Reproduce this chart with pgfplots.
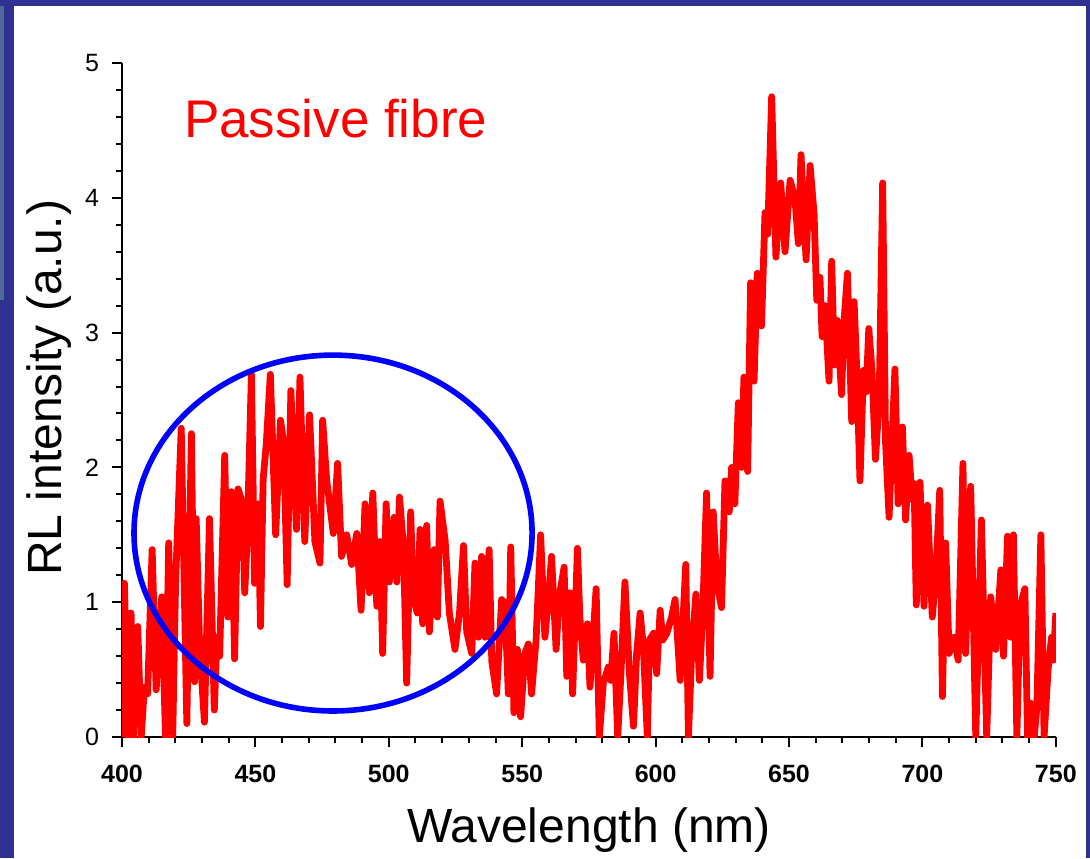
\documentclass[border=0pt]{standalone}
\usepackage{fontspec}
\setmainfont{Liberation Sans}
\usepackage{pgfplots}
\pgfplotsset{compat=1.18}
\definecolor{navy}{RGB}{46,49,146}
\definecolor{steel}{RGB}{78,107,150}
\begin{document}
\begin{tikzpicture}
\path[use as bounding box] (0,0) rectangle (545pt,429pt);
\fill[white] (0,0) rectangle (545pt,429pt);
\fill[navy] (0,0) rectangle (7pt,429pt);
\fill[navy] (0,426pt) rectangle (545pt,429pt);
\fill[navy] (543pt,0) rectangle (545pt,429pt);
\fill[steel] (0,279pt) rectangle (2pt,426pt);
\begin{axis}[
 at={(61pt,60.5pt)}, anchor=south west, scale only axis,
 width=466.9pt, height=337pt,
 xmin=400,xmax=750,ymin=0,ymax=5,
 axis x line*=bottom, axis y line*=left,
 axis line style={line width=1pt, black},
 xtick={400,450,...,750}, ytick={0,1,...,5},
 minor x tick num=4, minor y tick num=4,
 tick align=outside,
 major tick length=5pt, minor tick length=3pt,
 tick style={black, line width=1pt},
 /pgf/number format/assume math mode=true,
 xticklabel style={font=\bfseries\fontsize{12.5}{15}\selectfont, yshift=-5.5pt},
 yticklabel style={font=\fontsize{12.5}{15}\selectfont, xshift=-3pt},
 xlabel={Wavelength (nm)}, ylabel={RL intensity (a.u.)},
 label style={font=\fontsize{24}{28}\selectfont},
 xlabel style={at={(axis description cs:0.5,-0.157)}, anchor=base},
 ylabel style={at={(axis description cs:-0.0643,0.518)}, anchor=base},
]
\addplot[red, line width=3.4pt, line join=round] coordinates {
(400,0) (400.9,1.14) (401.8,0.45) (402.5,0) (403.4,0.92) (404.3,0) (405.9,0.82) (407.2,0)
(408.4,0.37) (409.6,0.32) (411.3,1.39) (412.8,0.35) (414.9,1.04) (416.3,0) (417.5,1.44) (419.0,0)
(420.1,1.16) (422.2,2.29) (424.3,0.1) (426.0,2.25) (427.2,0.41) (427.8,1.62) (429.1,0.67) (430.9,0.11)
(432.8,1.62) (434.6,0.2) (435.6,0.74) (436.6,0.6) (438.5,2.09) (439.7,0.89) (441.0,1.82) (442.2,0.58)
(443.5,1.84) (445.1,1.74) (446.0,1.07) (446.9,1.46) (448.5,2.69) (449.7,1.14) (451.0,1.73) (451.9,0.82)
(452.9,1.91) (454.1,2.18) (455.6,2.69) (457.6,1.5) (459.4,2.35) (460.6,2.18) (461.9,1.13) (463.3,2.57)
(465.4,1.54) (466.7,2.67) (468.5,1.45) (470.3,2.39) (472.3,1.45) (474.2,1.29) (475.2,2.35) (476.7,1.91)
(479.2,1.51) (480.8,2.03) (482.3,1.34) (484.2,1.5) (486.1,1.28) (488.0,1.51) (489.6,0.94) (491.1,1.73)
(492.7,1.07) (494.0,1.81) (495.5,0.97) (496.7,1.45) (497.7,0.62) (499.0,1.73) (500.2,1.15) (502.0,1.63)
(503.0,1.15) (504.0,1.78) (505.5,1.41) (506.7,0.4) (508.2,1.67) (509.2,1.03) (510.7,0.92) (511.7,1.54)
(512.7,0.84) (514.2,1.57) (515.2,0.78) (517.0,1.39) (518.2,0.89) (519.2,1.75) (521.1,1.46) (522.7,0.92)
(524.8,0.65) (526.5,0.92) (528.0,1.42) (529.2,0.78) (531.1,0.62) (532.3,1.29) (533.6,0.74) (534.8,1.34)
(536.1,0.74) (537.6,1.39) (538.6,0.56) (540.4,0.32) (542.3,1.02) (543.5,0.99) (544.8,0.32) (545.7,1.41)
(546.9,0.18) (548.2,0.65) (549.4,0.15) (551.0,0.62) (552.3,0.69) (553.5,0.32) (555.2,0.72) (556.9,1.5)
(558.5,0.74) (559.8,1.02) (561.0,1.34) (562.7,0.65) (563.9,1.04) (565.7,1.26) (566.7,0.45) (567.9,1.07)
(568.9,0.32) (570.7,1.4) (571.6,0.89) (572.9,0.57) (574.4,0.84) (575.4,0.37) (577.7,1.1) (578.9,0)
(580.4,0.4) (582.3,0.52) (583.2,0.42) (584.4,0.77) (585.8,0) (587.0,0.47) (588.5,1.15) (590.2,0.47)
(591.7,0.08) (592.9,0.62) (594.2,0.92) (595.4,0.67) (596.9,0) (597.7,0.72) (599.2,0.77) (600.4,0.47)
(601.7,0.94) (602.7,0.72) (604.2,0.77) (606.0,0.89) (607.3,1.02) (609.2,0.42) (610.2,0.84) (611.3,1.28)
(612.3,0) (613.5,0.62) (615.1,1.06) (616.4,0.42) (617.6,0.89) (619.1,1.81) (620.4,0.45) (621.6,1.67)
(622.9,1.15) (624.7,0.96) (626.0,1.9) (627.6,1.67) (628.5,2.0) (629.7,1.73) (631.0,2.48) (632.2,2.0)
(633.1,2.67) (634.5,1.97) (635.6,3.37) (636.9,2.64) (638.1,3.44) (639.7,3.05) (641.0,3.89) (642.0,3.73)
(643.5,4.75) (645.1,3.56) (646.9,4.11) (648.5,3.6) (650.4,4.13) (652.2,4.0) (653.5,3.66) (654.5,4.32)
(656.4,3.54) (657.9,4.24) (659.4,3.88) (660.4,3.24) (661.6,3.41) (662.4,2.97) (663.5,3.2) (665.0,2.64)
(666.0,3.53) (667.0,2.76) (668.1,3.09) (669.7,2.54) (670.6,3.08) (671.9,3.44) (673.5,2.34) (674.4,3.23)
(675.4,2.72) (676.6,1.9) (677.9,2.72) (678.9,2.56) (679.9,3.03) (681.1,2.72) (682.4,2.06) (683.8,2.5)
(685.1,4.11) (686.2,2.18) (687.5,1.63) (689.7,2.73) (690.9,1.73) (692.5,2.3) (693.7,1.61) (695.0,2.09)
(696.2,1.76) (696.9,1.88) (697.7,0.98) (699.1,1.89) (700.6,0.97) (701.9,1.72) (703.7,0.89) (705.0,1.19)
(706.5,1.83) (707.5,0.3) (708.7,1.44) (710.0,0.62) (711.9,0.74) (713.4,0.57) (715.2,2.03) (716.2,0.62)
(718.1,1.86) (720.0,0) (722.1,1.61) (724.1,0) (725.6,1.04) (727.5,0.65) (729.4,1.24) (730.4,0.6)
(731.9,1.49) (733.1,0.74) (734.1,1.5) (735.4,0) (736.6,0.97) (738.4,1.1) (739.4,0) (740.6,0.25)
(741.9,0) (742.9,0.22) (744.4,1.5) (745.6,0) (747.1,0.5) (748.4,0.74) (749.1,0.57) (750.0,0.92)
};
\draw[blue, line width=2.8pt] (axis cs:479.1,1.513) ellipse [x radius=74.6, y radius=1.32];
\node[anchor=base west, inner sep=0, text=red, font=\fontsize{26.5}{32}\selectfont] at (axis description cs:0.066,0.890) {Passive fibre};
\end{axis}
\end{tikzpicture}
\end{document}
